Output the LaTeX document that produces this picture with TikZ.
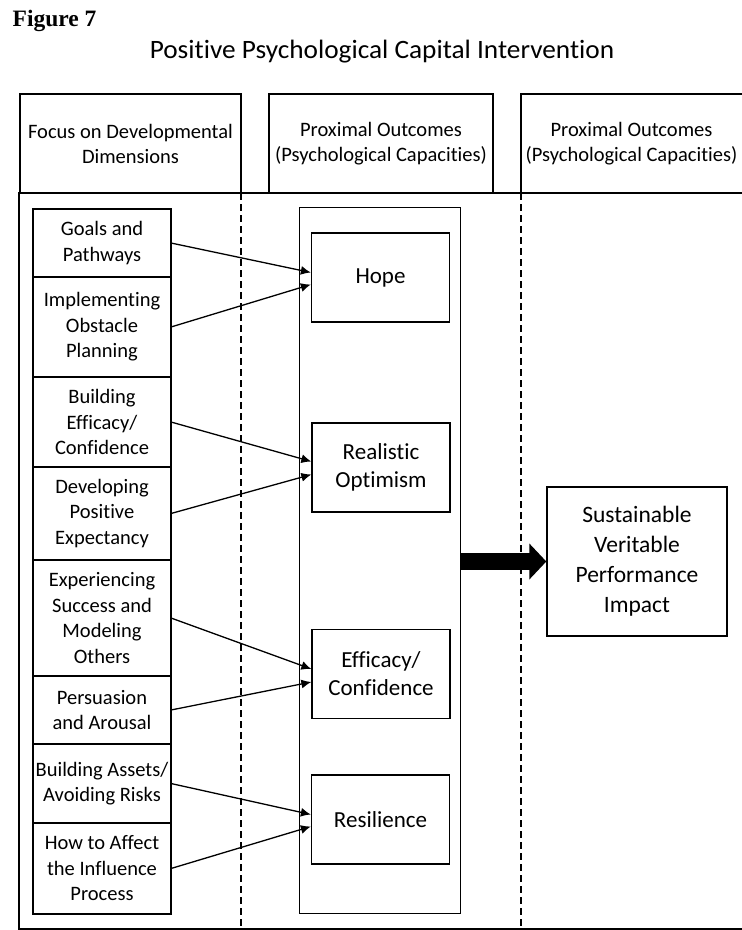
\documentclass[tikz,border=0pt]{standalone}
\usepackage{fontspec}
\setmainfont{Carlito}[Ligatures=NoCommon]
\newfontfamily\figfont{Liberation Serif}
\newfontfamily\titlefont[FakeStretch=1.03, Ligatures=NoCommon]{Carlito}
\usetikzlibrary{shapes,arrows,arrows.meta,positioning,fit,backgrounds}

\begin{document}
\begin{tikzpicture}[x=1pt, y=-1pt, node distance=0pt, line width=1.3pt]
    \tikzstyle{headbox} = [rectangle, draw, align=center, minimum height=99pt, inner sep=0pt, outer sep=0pt, anchor=north west, font=\fontsize{20.5}{25}\selectfont]
    \tikzstyle{dimbox} = [rectangle, draw, align=center, minimum width=138pt, inner sep=0pt, outer sep=0pt, font=\fontsize{20.5}{25.5}\selectfont]
    \tikzstyle{capbox} = [rectangle, draw, align=center, minimum width=138pt, minimum height=89pt, inner sep=0pt, font=\fontsize{23}{28}\selectfont]
    \tikzstyle{arrow} = [-{Latex[length=10pt, width=9pt]}]
    \tikzstyle{divider} = [dash pattern=on 7pt off 4pt]

    \useasboundingbox (0,0) rectangle (742,930);

    \node [anchor=base west, inner sep=0pt, font=\figfont\bfseries\fontsize{23.5}{28}\selectfont] (fig) at (12,26) {Figure 7};
    \node [anchor=base, inner sep=0pt, font=\titlefont\fontsize{26.5}{31}\selectfont] (title) at (382,58) {Positive Psychological Capital Intervention};

    \node [headbox, minimum width=221pt] (h1) at (20,94) {Focus on Developmental\\Dimensions};
    \node [headbox, minimum width=224pt] (h2) at (269,94) {Proximal Outcomes\\(Psychological Capacities)};
    \node [headbox, minimum width=221pt, draw=none] (h3) at (521,94) {Proximal Outcomes\\(Psychological Capacities)};
    \draw ([xshift=5pt]h3.north east) -| (h3.south west) -- ([xshift=5pt]h3.south east);

    \node [minimum width=726pt, minimum height=736pt, inner sep=0pt, outer sep=0pt, anchor=north west] (frame) at (19,193) {};
    \draw (frame.north east) -| (frame.south west) -- (frame.south east);
    \draw [divider] (h1.south east |- frame.north) -- (h1.south east |- frame.south);
    \draw [divider] (h3.south west |- frame.north) -- (h3.south west |- frame.south);

    \node [dimbox, minimum height=68pt, anchor=north west] (d1) at (33,209) {Goals and\\Pathways};
    \node [dimbox, minimum height=100pt, below=of d1] (d2) {Implementing\\Obstacle\\Planning};
    \node [dimbox, minimum height=90pt, below=of d2] (d3) {Building\\Efficacy/\\Confidence};
    \node [dimbox, minimum height=93pt, below=of d3] (d4) {Developing\\Positive\\Expectancy};
    \node [dimbox, minimum height=116pt, below=of d4] (d5) {Experiencing\\Success and\\Modeling\\Others};
    \node [dimbox, minimum height=68pt, below=of d5] (d6) {Persuasion\\and Arousal};
    \node [dimbox, minimum height=79pt, below=of d6] (d7) {Building Assets/\\Avoiding Risks};
    \node [dimbox, minimum height=91pt, below=of d7] (d8) {How to Affect\\the Influence\\Process};

    \node [rectangle, draw, minimum width=161pt, minimum height=706pt, inner sep=0pt, anchor=north west] (prox) at (299,207) {};
    \node [capbox] (hope) at (380.5,277.5) {Hope};
    \node [capbox] (real) at (381,467.5) {Realistic\\Optimism};
    \node [capbox] (effi) at (381,674) {Efficacy/\\Confidence};
    \node [capbox] (resi) at (380.5,819.5) {Resilience};

    \node [rectangle, draw, minimum width=180pt, minimum height=149pt, align=center, font=\fontsize{23.5}{30}\selectfont] (perf) at (637,561.5) {Sustainable\\Veritable\\Performance\\Impact};

    \draw [arrow] (d1.east) -- ([yshift=5pt]hope.west);
    \draw [arrow] (d2.east) -- ([yshift=-7pt]hope.west);
    \draw [arrow] (d3.east) -- ([yshift=6pt]real.west);
    \draw [arrow] (d4.east) -- ([yshift=-7pt]real.west);
    \draw [arrow] (d5.east) -- ([yshift=5pt]effi.west);
    \draw [arrow] (d6.east) -- ([yshift=-8pt]effi.west);
    \draw [arrow] (d7.east) -- ([yshift=5pt]resi.west);
    \draw [arrow] (d8.east) -- ([yshift=-7pt]resi.west);

    \draw [line width=17pt, -{Triangle[length=17pt, width=35pt]}] (prox.east |- perf.west) -- (perf.west);
\end{tikzpicture}
\end{document}
